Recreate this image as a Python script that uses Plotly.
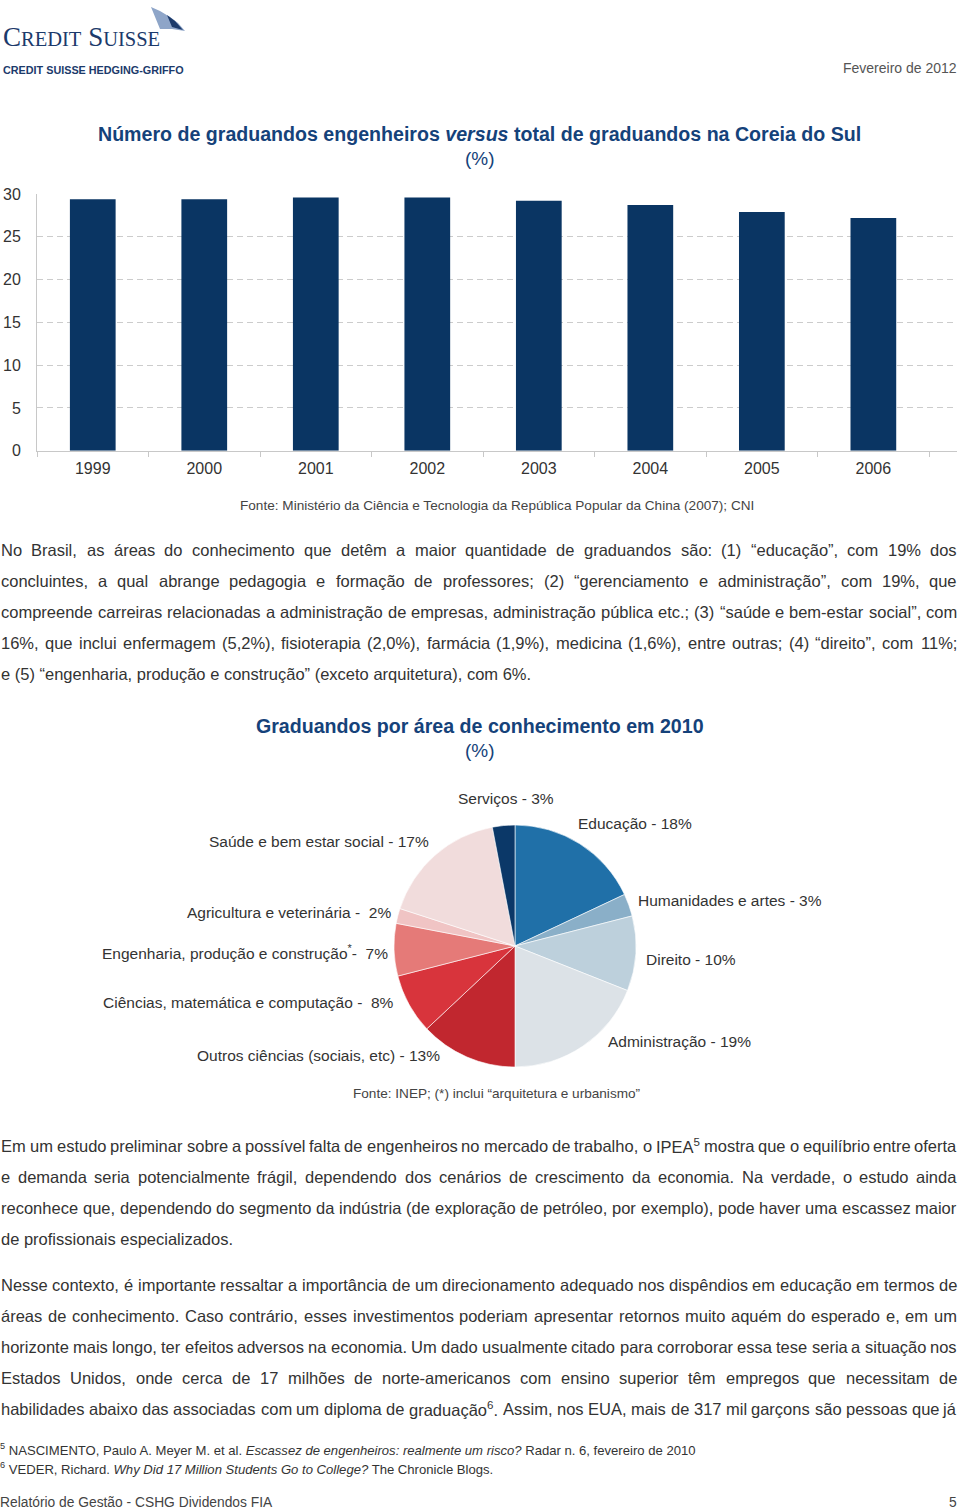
import re
import unicodedata
import plotly.graph_objects as go

W, H = 960, 1510
FONT = "Liberation Sans"
TXT = "#333333"
NAVY = "#0a3563"
TITLE = "#15427a"

# ---------------- data ----------------
years = ["1999", "2000", "2001", "2002", "2003", "2004", "2005", "2006"]
eng_share = [29.4, 29.4, 29.6, 29.6, 29.2, 28.7, 27.9, 27.2]
y_ticks = [0, 5, 10, 15, 20, 25, 30]

areas = ["Educação", "Humanidades e artes", "Direito", "Administração",
         "Outros ciências (sociais, etc)", "Ciências, matemática e computação",
         "Engenharia, produção e construção", "Agricultura e veterinária",
         "Saúde e bem estar social", "Serviços"]
area_share = [18, 3, 10, 19, 13, 8, 7, 2, 17, 3]
area_colors = ["#2070a8", "#8aafc8", "#bdd0dc", "#dce2e7", "#c1272f",
               "#d8343c", "#e57a78", "#f0c4c4", "#f1dcdc", "#0b3868"]

para1 = [
    "No Brasil, as áreas do conhecimento que detêm a maior quantidade de graduandos são: (1) “educação”, com 19% dos",
    "concluintes, a qual abrange pedagogia e formação de professores; (2) “gerenciamento e administração”, com 19%, que",
    "compreende carreiras relacionadas a administração de empresas, administração pública etc.; (3) “saúde e bem-estar social”, com",
    "16%, que inclui enfermagem (5,2%), fisioterapia (2,0%), farmácia (1,9%), medicina (1,6%), entre outras; (4) “direito”, com 11%;",
    "e (5) “engenharia, produção e construção” (exceto arquitetura), com 6%.",
]
para2 = [
    "Em um estudo preliminar sobre a possível falta de engenheiros no mercado de trabalho, o IPEA<sup>5</sup> mostra que o equilíbrio entre oferta",
    "e demanda seria potencialmente frágil, dependendo dos cenários de crescimento da economia. Na verdade, o estudo ainda",
    "reconhece que, dependendo do segmento da indústria (de exploração de petróleo, por exemplo), pode haver uma escassez maior",
    "de profissionais especializados.",
]
para3 = [
    "Nesse contexto, é importante ressaltar a importância de um direcionamento adequado nos dispêndios em educação em termos de",
    "áreas de conhecimento. Caso contrário, esses investimentos poderiam apresentar retornos muito aquém do esperado e, em um",
    "horizonte mais longo, ter efeitos adversos na economia. Um dado usualmente citado para corroborar essa tese seria a situação nos",
    "Estados Unidos, onde cerca de 17 milhões de norte-americanos com ensino superior têm empregos que necessitam de",
    "habilidades abaixo das associadas com um diploma de graduação<sup>6</sup>. Assim, nos EUA, mais de 317 mil garçons são pessoas que já",
]

# Arial / Liberation Sans advance widths (1/1000 em)
AW = {" ": 278, "!": 278, '"': 355, "%": 889, "'": 191, "(": 333, ")": 333, "*": 389,
      ",": 278, "-": 333, ".": 278, "/": 278, ":": 278, ";": 278, "?": 556,
      "“": 333, "”": 333}
for c in "0123456789":
    AW[c] = 556
for c, v in zip("ABCDEFGHIJKLMNOPQRSTUVWXYZ",
                [667, 667, 722, 722, 667, 611, 778, 722, 278, 500, 667, 556, 833,
                 722, 778, 667, 778, 722, 667, 611, 722, 667, 944, 667, 667, 611]):
    AW[c] = v
for c, v in zip("abcdefghijklmnopqrstuvwxyz",
                [556, 556, 500, 556, 556, 278, 556, 556, 222, 222, 500, 222, 833,
                 556, 556, 556, 556, 333, 500, 278, 556, 500, 722, 500, 500, 500]):
    AW[c] = v


def em_width(s):
    tot = 0.0
    sup = False
    for tok in re.split(r"(<[^>]+>)", s):
        if tok.startswith("<"):
            if tok == "<sup>":
                sup = True
            elif tok == "</sup>":
                sup = False
            continue
        for ch in tok:
            b = unicodedata.normalize("NFD", ch)[0]
            tot += AW.get(b, 556) / 1000 * (0.7 if sup else 1.0)
    return tot


fig = go.Figure()


def ann(text, x, y, size, color=TXT, xanchor="left", family=FONT):
    fig.add_annotation(x=x / W, y=1 - y / H, xref="paper", yref="paper", text=text,
                       showarrow=False, xanchor=xanchor, yanchor="middle",
                       font=dict(size=size, color=color, family=family),
                       borderpad=0, borderwidth=0)


X0, X1 = 1, 957


def paragraph(lines, y0, base_fs, step, justify_last=False):
    fs = base_fs
    for i, ln in enumerate(lines):
        if i == len(lines) - 1 and not justify_last:
            continue
        words = ln.split(" ")
        em = sum(em_width(w) for w in words) + (len(words) - 1) * 0.2
        fs = min(fs, (X1 - X0) / em)
    for i, ln in enumerate(lines):
        y = y0 + i * step
        if i == len(lines) - 1 and not justify_last:
            ann(ln, X0, y, fs)
            continue
        words = ln.split(" ")
        ws = [em_width(w) * fs for w in words]
        gap = (X1 - X0 - sum(ws)) / (len(words) - 1)
        x = X0
        for j, w in enumerate(words):
            if j == len(words) - 1:
                ann(w, X1, y, fs, xanchor="right")
            else:
                ann(w, x, y, fs)
            x += ws[j] + gap


# ---------------- bar chart ----------------
fig.add_trace(go.Bar(x=years, y=eng_share, width=0.41, marker=dict(color=NAVY, line=dict(width=0)),
                     xaxis="x", yaxis="y", hoverinfo="skip"))

# ---------------- pie chart ----------------
fig.add_trace(go.Pie(labels=areas, values=area_share, sort=False, direction="clockwise",
                     rotation=0, textinfo="none", hoverinfo="skip", automargin=False,
                     marker=dict(colors=area_colors, line=dict(color="white", width=0.6)),
                     domain=dict(x=[394 / W, 636 / W], y=[1 - 1067 / H, 1 - 825 / H])))

fig.update_layout(
    width=W, height=H, margin=dict(l=0, r=0, t=0, b=0, pad=0, autoexpand=False),
    paper_bgcolor="white", plot_bgcolor="white", showlegend=False,
    font=dict(family=FONT, color=TXT),
    xaxis=dict(domain=[37 / W, 957 / W], anchor="y", type="category", range=[-0.5, 7.75],
               showgrid=False, showline=True, linecolor="#c8c8c8", linewidth=1,
               ticks="outside", tickson="boundaries", ticklen=5, tickcolor="#c8c8c8",
               tickfont=dict(size=16, color=TXT), ticklabelstandoff=3, zeroline=False,
               automargin=False, fixedrange=True),
    yaxis=dict(domain=[1 - 450.7 / H, 1 - 194 / H], anchor="x", range=[0, 30],
               tickvals=y_ticks, showgrid=True, gridcolor="#cccccc", griddash="6px,4px",
               gridwidth=1, showline=True, linecolor="#c8c8c8", linewidth=1,
               zeroline=False, ticks="", tickfont=dict(size=16, color=TXT),
               ticklabelstandoff=12, automargin=False, fixedrange=True),
)

# ---------------- header ----------------
ann("C<span style='font-size:20.5px'>REDIT</span> S<span style='font-size:20.5px'>UISSE</span>",
    3, 37, 27, color="#1c3a6b", family="Liberation Serif")
ann("<b>CREDIT SUISSE HEDGING-GRIFFO</b>", 3, 70, 10.8, color="#1c3a6b")
ann("Fevereiro de 2012", 957, 68, 14, color="#555555", xanchor="right")


def pth(pts):
    s = "M " + " L ".join(f"{x / W:.5f} {1 - y / H:.5f}" for x, y in pts) + " Z"
    return s


fig.add_shape(type="path", xref="paper", yref="paper", line=dict(width=0),
              fillcolor="#8ea5c8",
              path=pth([(151, 7), (160, 11), (170, 17), (178, 23), (185, 31), (172, 29), (160, 29)]))
fig.add_shape(type="path", xref="paper", yref="paper", line=dict(width=0),
              fillcolor="#1c3a6b",
              path=pth([(167, 15), (175, 21), (183, 30), (172, 27)]))

# ---------------- chart 1 titles ----------------
ann("<b>Número de graduandos engenheiros <i>versus</i> total de graduandos na Coreia do Sul</b>",
    479.5, 134, 19.6, color=TITLE, xanchor="center")
ann("(%)", 479.5, 159, 19, color=TITLE, xanchor="center")
ann("Fonte: Ministério da Ciência e Tecnologia da República Popular da China (2007); CNI",
    497, 505, 13.6, color="#444444", xanchor="center")

# ---------------- text paragraphs ----------------
paragraph(para1, 550, 16.5, 31)

ann("<b>Graduandos por área de conhecimento em 2010</b>", 480, 726, 19.6, color=TITLE, xanchor="center")
ann("(%)", 480, 750, 19, color=TITLE, xanchor="center")

# pie labels
PL = 15.5
ann("Serviços - 3%", 458, 798, PL)
ann("Educação - 18%", 578, 823, PL)
ann("Saúde e bem estar social - 17%", 429, 841, PL, xanchor="right")
ann("Humanidades e artes - 3%", 638, 900, PL)
ann("Agricultura e veterinária -  2%", 391, 912, PL, xanchor="right")
ann("Engenharia, produção e construção<sup>*</sup>-  7%", 388, 952, PL, xanchor="right")
ann("Direito - 10%", 646, 959, PL)
ann("Ciências, matemática e computação -  8%", 394, 1002, PL, xanchor="right")
ann("Administração - 19%", 608, 1041, PL)
ann("Outros ciências (sociais, etc) - 13%", 440, 1055, PL, xanchor="right")
ann("Fonte: INEP; (*) inclui “arquitetura e urbanismo”", 497, 1093, 13.6, color="#444444", xanchor="center")

paragraph(para2, 1146, 16.5, 31)
paragraph(para3, 1285, 16.5, 31, justify_last=True)

# ---------------- footnotes / footer ----------------
ann("<sup>5</sup> NASCIMENTO, Paulo A. Meyer M. et al. <i>Escassez de engenheiros: realmente um risco?</i> Radar n. 6, fevereiro de 2010",
    0, 1449, 13.1)
ann("<sup>6</sup> VEDER, Richard. <i>Why Did 17 Million Students Go to College?</i> The Chronicle Blogs.",
    0, 1468, 13.1)
ann("Relatório de Gestão - CSHG Dividendos FIA", 0, 1502, 13.8, color="#444444")
ann("5", 957, 1502, 13.8, color="#444444", xanchor="right")

fig.write_html("out.html", config={"displayModeBar": False, "responsive": False},
               post_script="document.body.style.margin='0';document.body.style.padding='0';")
